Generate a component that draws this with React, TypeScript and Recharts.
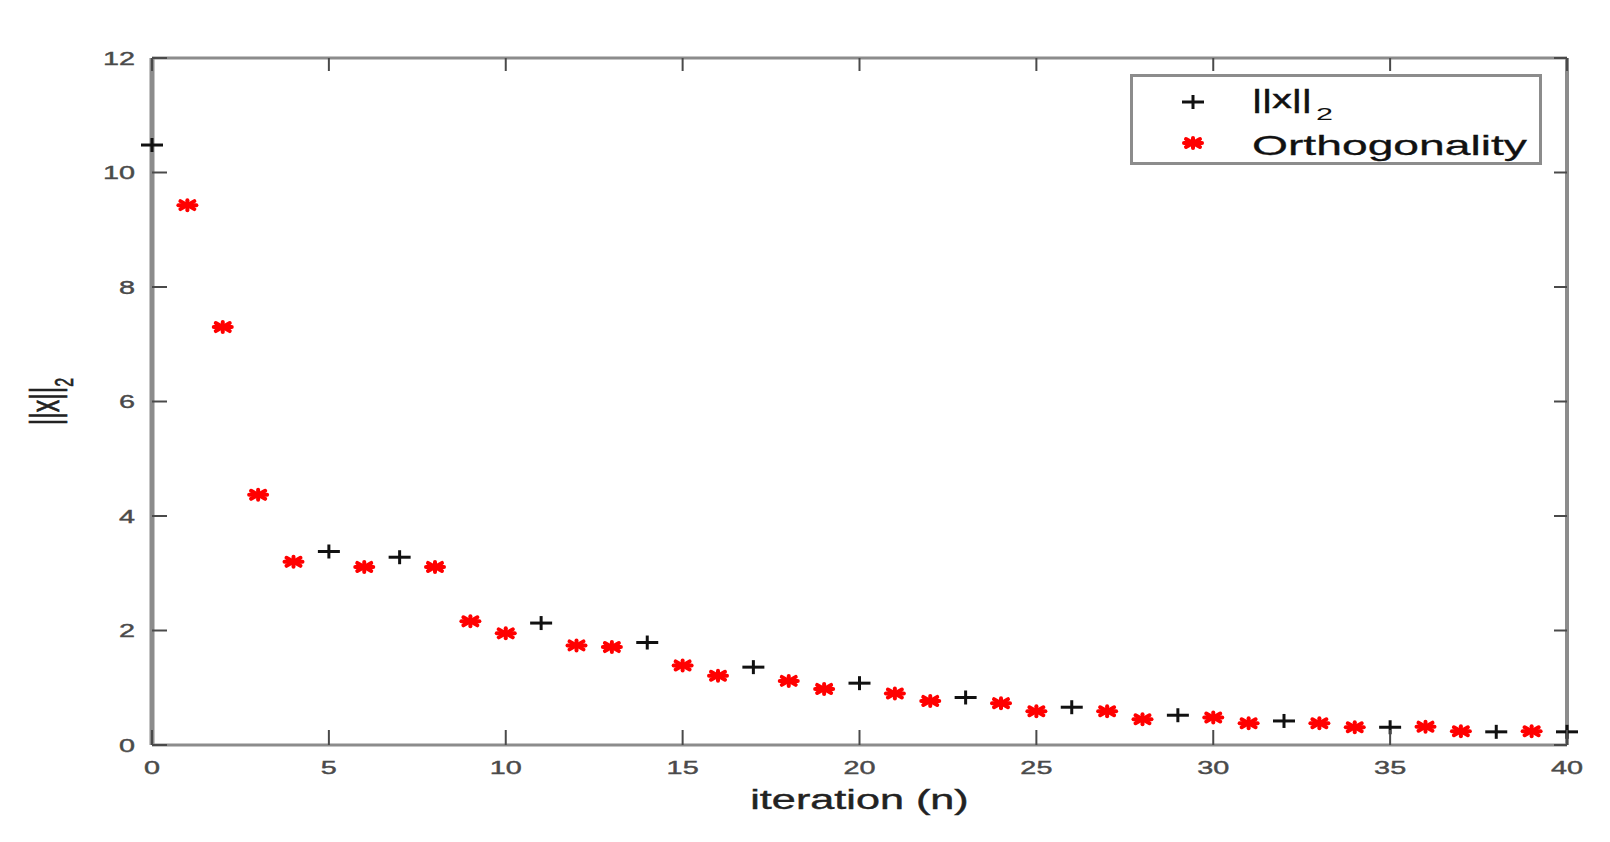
import { ScatterChart, Scatter, XAxis, YAxis, Legend } from "recharts";

// ||x||_2 samples (black plus)
const normIter = [0, 5, 7, 11, 14, 17, 20, 23, 26, 29, 32, 35, 38, 40];
const normVals = [10.48, 3.38, 3.28, 2.13, 1.79, 1.36, 1.08, 0.83, 0.66, 0.52, 0.42, 0.31, 0.23, 0.23];

// orthogonality samples (red asterisk)
const orthoIter = [1, 2, 3, 4, 6, 8, 9, 10, 12, 13, 15, 16, 18, 19, 21, 22, 24, 25, 27, 28, 30, 31, 33, 34, 36, 37, 39];
const orthoVals = [
  9.43, 7.3, 4.37, 3.2, 3.11, 3.11, 2.16, 1.95, 1.74, 1.71, 1.39, 1.21, 1.12, 0.98,
  0.9, 0.77, 0.73, 0.59, 0.59, 0.45, 0.48, 0.38, 0.38, 0.31, 0.32, 0.24, 0.24,
];

const xTicks = [0, 5, 10, 15, 20, 25, 30, 35, 40];
const yTicks = [0, 2, 4, 6, 8, 10, 12];

const normData = normIter.map((n, i) => ({ n, v: normVals[i] }));
const orthoData = orthoIter.map((n, i) => ({ n, v: orthoVals[i] }));

const FONT = "'Liberation Sans', Arial, sans-serif";
const FRAME = "#8c8c8c";
const TICK = "#4a4a4a";
const STRETCH = 1.6;

function Plus({ cx, cy }: any) {
  return (
    <g stroke="#111" strokeWidth={3}>
      <line x1={cx - 11} x2={cx + 11} y1={cy} y2={cy} />
      <line x1={cx} x2={cx} y1={cy - 7} y2={cy + 7} />
    </g>
  );
}

function Star({ cx, cy }: any) {
  return (
    <g stroke="#ff0000" strokeWidth={4} strokeLinecap="round">
      <line x1={cx - 9} x2={cx + 9} y1={cy} y2={cy} />
      <line x1={cx} x2={cx} y1={cy - 5} y2={cy + 5} />
      <line x1={cx - 7} x2={cx + 7} y1={cy - 4} y2={cy + 4} />
      <line x1={cx - 7} x2={cx + 7} y1={cy + 4} y2={cy - 4} />
    </g>
  );
}

function BottomTick({ x, y, payload }: any) {
  return (
    <g>
      <line x1={x} x2={x} y1={y} y2={y - 15} stroke={TICK} strokeWidth={2} />
      <text
        transform={`translate(${x},${y + 29}) scale(${STRETCH},1)`}
        textAnchor="middle"
        fontSize={18}
        fill={TICK}
        stroke={TICK}
        strokeWidth={0.4}
        fontFamily={FONT}
      >
        {payload.value}
      </text>
    </g>
  );
}

function LeftTick({ x, y, payload }: any) {
  return (
    <g>
      <line x1={x} x2={x + 15} y1={y} y2={y} stroke={TICK} strokeWidth={2} />
      <text
        transform={`translate(${x - 17},${y + 6.5}) scale(${STRETCH},1)`}
        textAnchor="end"
        fontSize={18}
        fill={TICK}
        stroke={TICK}
        strokeWidth={0.4}
        fontFamily={FONT}
      >
        {payload.value}
      </text>
    </g>
  );
}

function TopTick({ x, y }: any) {
  return <line x1={x} x2={x} y1={y} y2={y + 13} stroke={TICK} strokeWidth={2} />;
}

function RightTick({ x, y }: any) {
  return <line x1={x} x2={x - 13} y1={y} y2={y} stroke={TICK} strokeWidth={2} />;
}

function XTitle(props: any) {
  const { x, y, width } = props.viewBox;
  return (
    <text
      transform={`translate(${x + width / 2},${y + 64}) scale(${STRETCH},1)`}
      textAnchor="middle"
      fontSize={27}
      fill="#222"
      stroke="#222"
      strokeWidth={0.4}
      fontFamily={FONT}
    >
      iteration (n)
    </text>
  );
}

function YTitle(props: any) {
  const { x, y, height } = props.viewBox;
  return (
    <text
      transform={`translate(${x + 51},${y + height / 2}) scale(${STRETCH},1) rotate(-90)`}
      textAnchor="middle"
      fontSize={25}
      fill="#222"
      stroke="#222"
      strokeWidth={0.4}
      fontFamily={FONT}
    >
      ||x||
      <tspan fontSize={16} dy={9}>
        2
      </tspan>
    </text>
  );
}

function LegendBox() {
  return (
    <svg width={420} height={92} style={{ display: "block" }}>
      <rect x={1.5} y={1.5} width={409} height={88} fill="#fff" stroke={FRAME} strokeWidth={3} />
      <Plus cx={63} cy={28} />
      <text
        x={122}
        y={34}
        fontSize={25}
        textLength={60}
        lengthAdjust="spacingAndGlyphs"
        fontFamily={FONT}
        fill="#111"
        stroke="#111"
        strokeWidth={0.5}
      >
        ||x||
      </text>
      <text x={186} y={46} fontSize={17} textLength={17} lengthAdjust="spacingAndGlyphs" fontFamily={FONT} fill="#111">
        2
      </text>
      <Star cx={63} cy={69} />
      <text
        x={122}
        y={81}
        fontSize={28}
        textLength={275}
        lengthAdjust="spacingAndGlyphs"
        fontFamily={FONT}
        fill="#111"
        stroke="#111"
        strokeWidth={0.3}
      >
        Orthogonality
      </text>
    </svg>
  );
}

export default function App() {
  return (
    <div style={{ width: 1594, height: 826 }}>
      <ScatterChart width={1594} height={826} margin={{ top: 49, right: 34, left: 0, bottom: 0 }}>
        <XAxis
          dataKey="n"
          type="number"
          domain={[0, 40]}
          ticks={xTicks}
          interval={0}
          height={89}
          tickSize={0}
          tickMargin={0}
          tickLine={false}
          axisLine={{ stroke: FRAME, strokeWidth: 3 }}
          tick={<BottomTick />}
          label={{ content: (p: any) => <XTitle {...p} /> }}
        />
        <XAxis
          xAxisId="top"
          orientation="top"
          dataKey="n"
          type="number"
          domain={[0, 40]}
          ticks={xTicks}
          interval={0}
          height={1}
          tickSize={0}
          tickMargin={0}
          tickLine={false}
          axisLine={{ stroke: FRAME, strokeWidth: 3 }}
          tick={<TopTick />}
        />
        <YAxis
          dataKey="v"
          type="number"
          domain={[0, 12]}
          ticks={yTicks}
          interval={0}
          width={144}
          tickSize={0}
          tickMargin={0}
          tickLine={false}
          axisLine={{ stroke: FRAME, strokeWidth: 5 }}
          tick={<LeftTick />}
          label={{ content: (p: any) => <YTitle {...p} /> }}
        />
        <YAxis
          yAxisId="right"
          orientation="right"
          dataKey="v"
          type="number"
          domain={[0, 12]}
          ticks={yTicks}
          interval={0}
          width={1}
          tickSize={0}
          tickMargin={0}
          tickLine={false}
          axisLine={{ stroke: FRAME, strokeWidth: 4 }}
          tick={<RightTick />}
        />
        <Legend
          layout="vertical"
          align="center"
          verticalAlign="middle"
          content={() => <LegendBox />}
          wrapperStyle={{ position: "absolute", left: 1122, top: 66, width: 420, height: 92 }}
        />
        <Scatter
          name="||x||2"
          data={normData}
          shape={(p: any) => <Plus cx={p.cx} cy={p.cy} />}
          isAnimationActive={false}
        />
        <Scatter
          name="Orthogonality"
          data={orthoData}
          xAxisId="top"
          yAxisId="right"
          shape={(p: any) => <Star cx={p.cx} cy={p.cy} />}
          isAnimationActive={false}
        />
      </ScatterChart>
    </div>
  );
}
